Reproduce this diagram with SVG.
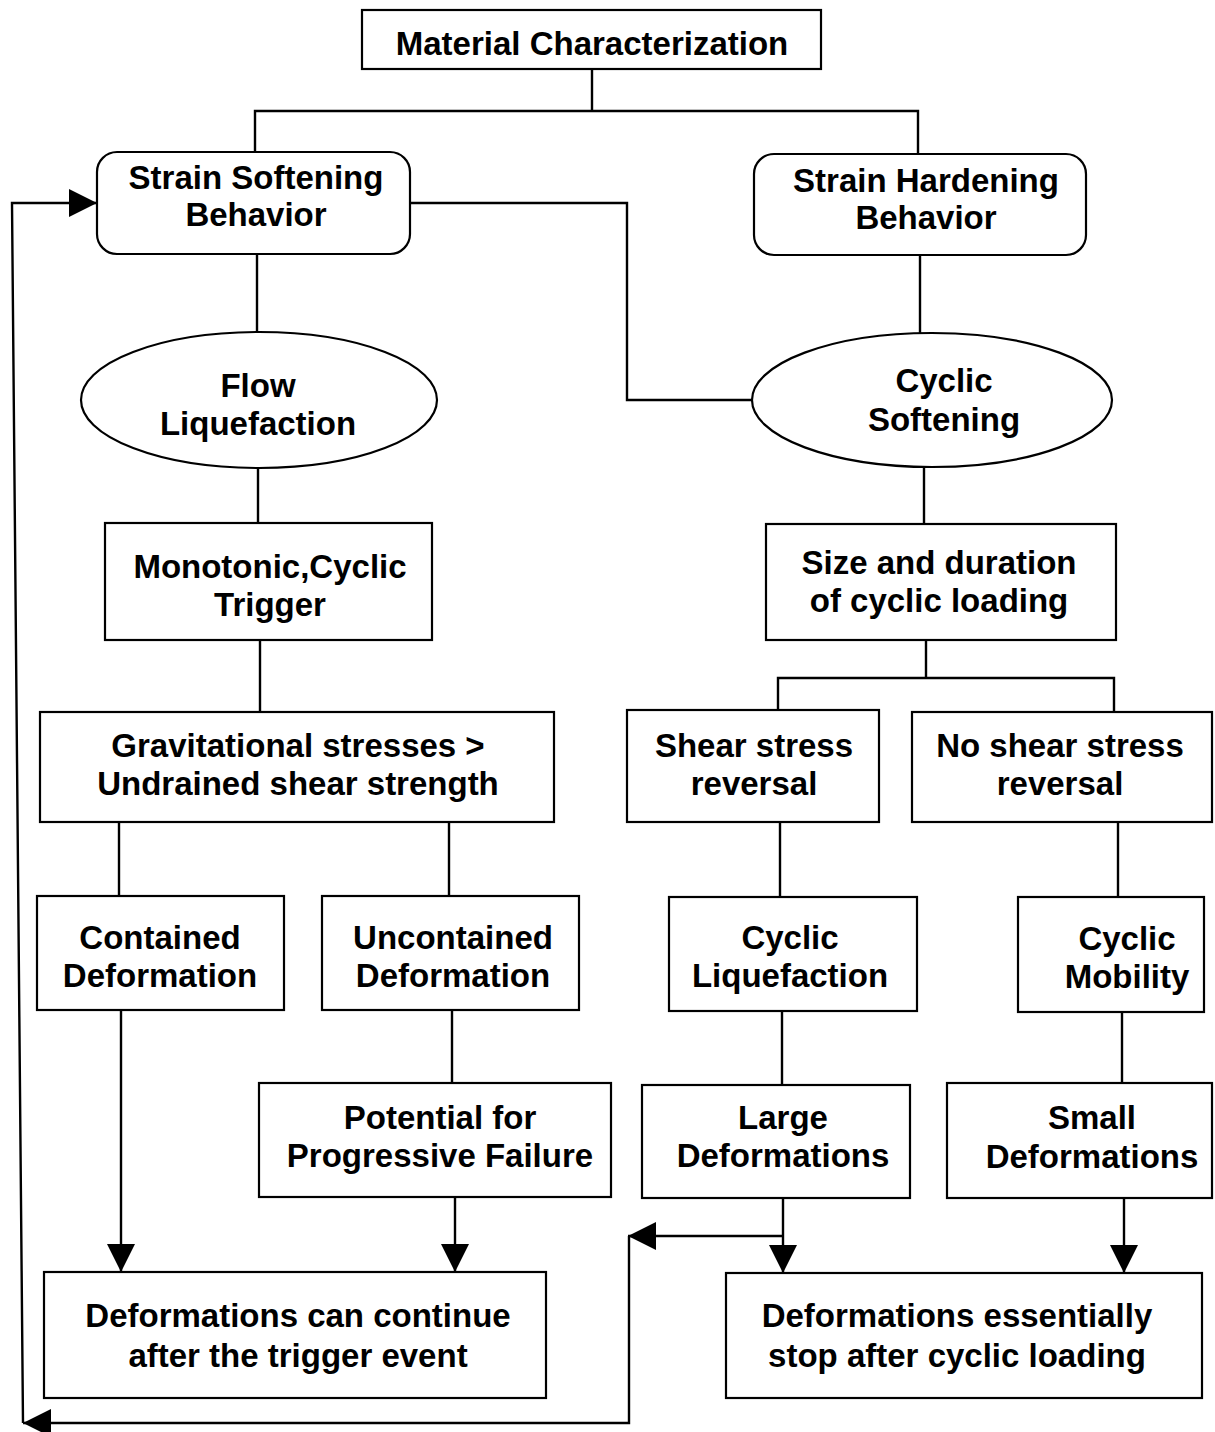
<svg xmlns="http://www.w3.org/2000/svg" width="1215" height="1432" viewBox="0 0 1215 1432">
<style>
.box{fill:#fff;stroke:#000;stroke-width:2.2}
.ln{fill:none;stroke:#000;stroke-width:2.4}
text{font-family:"Liberation Sans",Arial,sans-serif;font-weight:bold;font-size:33px;fill:#000;text-anchor:middle}
</style>
<defs>
<marker id="ah" markerUnits="userSpaceOnUse" viewBox="0 0 28 28" markerWidth="28" markerHeight="28" refX="28" refY="14" orient="auto">
<path d="M0,0 L28,14 L0,28 z" fill="#000"/>
</marker>
</defs>
<g id="connectors">
<path class="ln" d="M592,69 V111 M255,152 V111 H918 V154"/>
<path class="ln" d="M410,203 H627 V400 H753"/>
<path class="ln" d="M257,254 V332"/>
<path class="ln" d="M920,255 V333"/>
<path class="ln" d="M258,468 V523"/>
<path class="ln" d="M260,640 V712"/>
<path class="ln" d="M119,822 V896"/>
<path class="ln" d="M449,822 V896"/>
<path class="ln" d="M121,1010 V1272" marker-end="url(#ah)"/>
<path class="ln" d="M452,1010 V1083"/>
<path class="ln" d="M455,1197 V1272" marker-end="url(#ah)"/>
<path class="ln" d="M924,468 V524"/>
<path class="ln" d="M926,640 V678 M778,710 V678 H1114 V712"/>
<path class="ln" d="M780,822 V897"/>
<path class="ln" d="M1118,822 V897"/>
<path class="ln" d="M782,1011 V1085"/>
<path class="ln" d="M1122,1012 V1083"/>
<path class="ln" d="M783,1198 V1273" marker-end="url(#ah)"/>
<path class="ln" d="M1124,1198 V1273" marker-end="url(#ah)"/>
<path class="ln" d="M783,1236 H628" marker-end="url(#ah)"/>
<path class="ln" d="M629,1236 V1423 H23" marker-end="url(#ah)"/>
<path class="ln" d="M23,1423 L12,203 H97" marker-end="url(#ah)"/>
</g>
<g id="material-characterization"><rect class="box" x="362" y="10" width="459" height="59"/><text x="592" y="55">Material Characterization</text></g>
<g id="strain-softening"><rect class="box" x="97" y="152" width="313" height="102" rx="20"/><text x="256" y="189">Strain Softening</text><text x="256" y="226">Behavior</text></g>
<g id="strain-hardening"><rect class="box" x="754" y="154" width="332" height="101" rx="20"/><text x="926" y="192">Strain Hardening</text><text x="926" y="229">Behavior</text></g>
<g id="flow-liquefaction"><ellipse class="box" cx="259" cy="400" rx="178" ry="68"/><text x="258" y="397">Flow</text><text x="258" y="435">Liquefaction</text></g>
<g id="cyclic-softening"><ellipse class="box" cx="932" cy="400" rx="180" ry="67"/><text x="944" y="392">Cyclic</text><text x="944" y="431">Softening</text></g>
<g id="monotonic-cyclic-trigger"><rect class="box" x="105" y="523" width="327" height="117"/><text x="270" y="578">Monotonic,Cyclic</text><text x="270" y="616">Trigger</text></g>
<g id="size-duration"><rect class="box" x="766" y="524" width="350" height="116"/><text x="939" y="574">Size and duration</text><text x="939" y="612">of cyclic loading</text></g>
<g id="gravitational"><rect class="box" x="40" y="712" width="514" height="110"/><text x="298" y="757">Gravitational stresses &gt;</text><text x="298" y="795">Undrained shear strength</text></g>
<g id="shear-reversal"><rect class="box" x="627" y="710" width="252" height="112"/><text x="754" y="757">Shear stress</text><text x="754" y="795">reversal</text></g>
<g id="no-shear-reversal"><rect class="box" x="912" y="712" width="300" height="110"/><text x="1060" y="757">No shear stress</text><text x="1060" y="795">reversal</text></g>
<g id="contained"><rect class="box" x="37" y="896" width="247" height="114"/><text x="160" y="949">Contained</text><text x="160" y="987">Deformation</text></g>
<g id="uncontained"><rect class="box" x="322" y="896" width="257" height="114"/><text x="453" y="949">Uncontained</text><text x="453" y="987">Deformation</text></g>
<g id="cyclic-liquefaction"><rect class="box" x="669" y="897" width="248" height="114"/><text x="790" y="949">Cyclic</text><text x="790" y="987">Liquefaction</text></g>
<g id="cyclic-mobility"><rect class="box" x="1018" y="897" width="186" height="115"/><text x="1127" y="950">Cyclic</text><text x="1127" y="988">Mobility</text></g>
<g id="progressive-failure"><rect class="box" x="259" y="1083" width="352" height="114"/><text x="440" y="1129">Potential for</text><text x="440" y="1167">Progressive Failure</text></g>
<g id="large-deformations"><rect class="box" x="642" y="1085" width="268" height="113"/><text x="783" y="1129">Large</text><text x="783" y="1167">Deformations</text></g>
<g id="small-deformations"><rect class="box" x="947" y="1083" width="265" height="115"/><text x="1092" y="1129">Small</text><text x="1092" y="1168">Deformations</text></g>
<g id="deformations-continue"><rect class="box" x="44" y="1272" width="502" height="126"/><text x="298" y="1327">Deformations can continue</text><text x="298" y="1367">after the trigger event</text></g>
<g id="deformations-stop"><rect class="box" x="726" y="1273" width="476" height="125"/><text x="957" y="1327">Deformations essentially</text><text x="957" y="1367">stop after cyclic loading</text></g>
</svg>
